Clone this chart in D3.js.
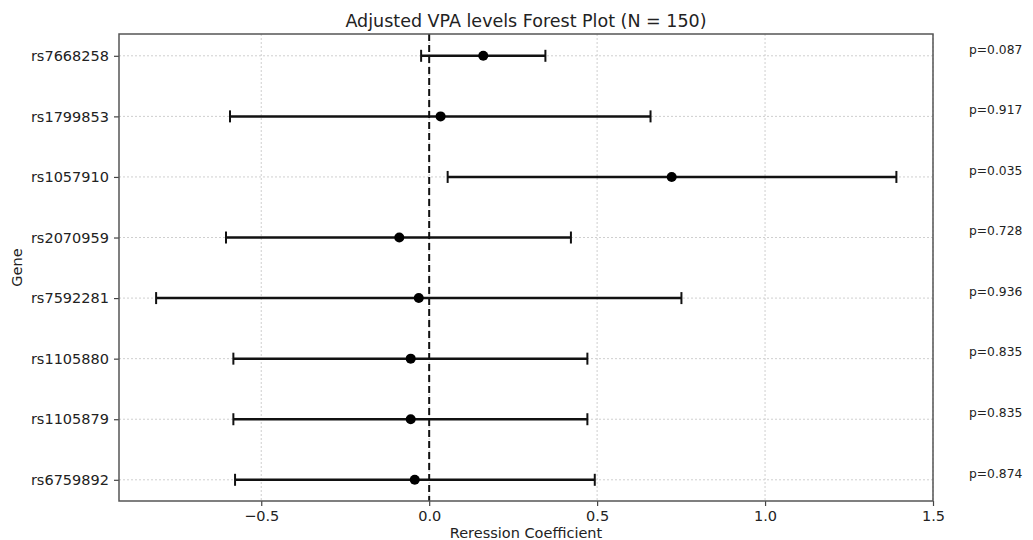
<!DOCTYPE html>
<html>
<head>
<meta charset="utf-8">
<script src="https://cdn.jsdelivr.net/npm/d3@7"></script>
<style>
  body { margin: 0; background: #fff; }
  svg text { font-family: "DejaVu Sans", sans-serif; fill: #222; }
</style>
</head>
<body>
<svg id="chart"></svg>
<script>
// Data
const genes = ['rs7668258', 'rs1799853', 'rs1057910', 'rs2070959', 'rs7592281', 'rs1105880', 'rs1105879', 'rs6759892'];
const coefs = [0.161, 0.034, 0.722, -0.089, -0.031, -0.055, -0.055, -0.043];
const ciLow = [-0.024, -0.593, 0.055, -0.605, -0.813, -0.583, -0.583, -0.578];
const ciHigh = [0.346, 0.659, 1.391, 0.422, 0.751, 0.471, 0.471, 0.493];
const pValues = ['p=0.087', 'p=0.917', 'p=0.035', 'p=0.728', 'p=0.936', 'p=0.835', 'p=0.835', 'p=0.874'];
const xTicks = [-0.5, 0.0, 0.5, 1.0, 1.5];

const data = genes.map((g, i) => ({gene: g, coef: coefs[i], lo: ciLow[i], hi: ciHigh[i], p: pValues[i], idx: i}));

const config = {
  width: 1033,
  height: 540,
  margin: {top: 34, right: 100, bottom: 39, left: 119}
};

const innerW = config.width - config.margin.left - config.margin.right;
const innerH = config.height - config.margin.top - config.margin.bottom;

const svg = d3.select('#chart')
    .attr('width', config.width)
    .attr('height', config.height);

const chart = svg.append('g')
    .attr('transform', `translate(${config.margin.left},${config.margin.top})`);

const xScale = d3.scaleLinear()
    .domain([-0.9235, 1.5])
    .range([0, innerW]);

// categorical positions 0..7 with matplotlib-like margins
const yScale = d3.scaleLinear()
    .domain([-0.36, genes.length - 1 + 0.35])
    .range([0, innerH]);

// Gridlines
chart.append('g')
    .selectAll('line.vgrid')
    .data(xTicks)
  .join('line')
    .attr('class', 'vgrid')
    .attr('x1', d => xScale(d)).attr('x2', d => xScale(d))
    .attr('y1', 0).attr('y2', innerH)
    .attr('stroke', '#cfcfcf')
    .attr('stroke-width', 1)
    .attr('stroke-dasharray', '2,2');

chart.append('g')
    .selectAll('line.hgrid')
    .data(data)
  .join('line')
    .attr('class', 'hgrid')
    .attr('x1', 0).attr('x2', innerW)
    .attr('y1', d => yScale(d.idx)).attr('y2', d => yScale(d.idx))
    .attr('stroke', '#cfcfcf')
    .attr('stroke-width', 1)
    .attr('stroke-dasharray', '2,2');

// Zero reference line
chart.append('line')
    .attr('x1', xScale(0)).attr('x2', xScale(0))
    .attr('y1', 0).attr('y2', innerH)
    .attr('stroke', '#111')
    .attr('stroke-width', 2)
    .attr('stroke-dasharray', '7,4');

// Error bars
const bars = chart.append('g').selectAll('g.bar')
    .data(data)
  .join('g')
    .attr('class', 'bar');

bars.append('line')
    .attr('x1', d => xScale(d.lo)).attr('x2', d => xScale(d.hi))
    .attr('y1', d => yScale(d.idx)).attr('y2', d => yScale(d.idx))
    .attr('stroke', '#111')
    .attr('stroke-width', 2.5);

bars.append('line')
    .attr('x1', d => xScale(d.lo)).attr('x2', d => xScale(d.lo))
    .attr('y1', d => yScale(d.idx) - 6).attr('y2', d => yScale(d.idx) + 6)
    .attr('stroke', '#111')
    .attr('stroke-width', 2);

bars.append('line')
    .attr('x1', d => xScale(d.hi)).attr('x2', d => xScale(d.hi))
    .attr('y1', d => yScale(d.idx) - 6).attr('y2', d => yScale(d.idx) + 6)
    .attr('stroke', '#111')
    .attr('stroke-width', 2);

bars.append('circle')
    .attr('cx', d => xScale(d.coef))
    .attr('cy', d => yScale(d.idx))
    .attr('r', 5)
    .attr('fill', '#000');

// Axes
const xAxis = d3.axisBottom(xScale)
    .tickValues(xTicks)
    .tickSize(5)
    .tickPadding(5)
    .tickFormat(d => d3.format('.1f')(d).replace('-', '\u2212'))
    .tickSizeOuter(0);

const yAxis = d3.axisLeft(yScale)
    .tickValues(data.map(d => d.idx))
    .tickSize(5)
    .tickPadding(5)
    .tickFormat(i => genes[i])
    .tickSizeOuter(0);

const xAxisG = chart.append('g')
    .attr('transform', `translate(0,${innerH})`)
    .call(xAxis);
const yAxisG = chart.append('g').call(yAxis);

[xAxisG, yAxisG].forEach(g => {
  g.select('.domain').remove();
  g.selectAll('.tick line').attr('stroke', '#444').attr('stroke-width', 1.2);
  g.selectAll('.tick text').style('font-size', '14.5px').style('font-family', '"DejaVu Sans", sans-serif').attr('fill', '#222');
});

// Frame
chart.append('rect')
    .attr('x', 0).attr('y', 0)
    .attr('width', innerW).attr('height', innerH)
    .attr('fill', 'none')
    .attr('stroke', '#555')
    .attr('stroke-width', 1.5);

// p-value annotations
chart.append('g').selectAll('text.pval')
    .data(data)
  .join('text')
    .attr('class', 'pval')
    .attr('x', innerW + 36)
    .attr('y', d => yScale(d.idx) - 6.5)
    .attr('dy', '0.35em')
    .style('font-size', '12.3px')
    .text(d => d.p);

// Titles
svg.append('text')
    .attr('x', config.margin.left + innerW / 2)
    .attr('y', 21)
    .attr('dy', '0.35em')
    .attr('text-anchor', 'middle')
    .style('font-size', '17.5px')
    .text('Adjusted VPA levels Forest Plot (N = 150)');

svg.append('text')
    .attr('x', config.margin.left + innerW / 2)
    .attr('y', 533)
    .attr('dy', '0.35em')
    .attr('text-anchor', 'middle')
    .style('font-size', '14.5px')
    .text('Reression Coefficient');

svg.append('text')
    .attr('transform', `translate(17,${config.margin.top + innerH / 2}) rotate(-90)`)
    .attr('dy', '0.35em')
    .attr('text-anchor', 'middle')
    .style('font-size', '14.5px')
    .text('Gene');
</script>
</body>
</html>
